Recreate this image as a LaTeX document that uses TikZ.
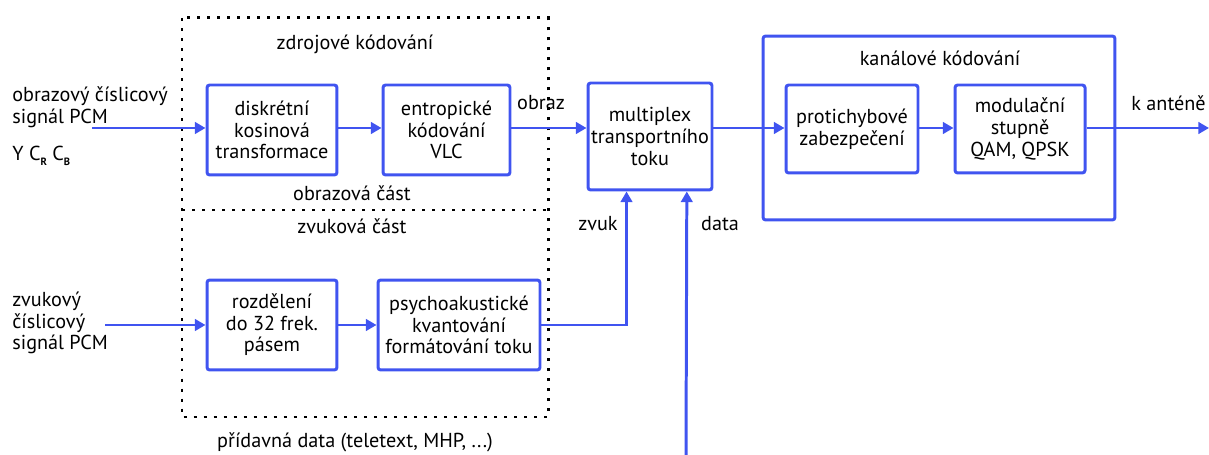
\documentclass[tikz,border=0pt]{standalone}
\usepackage{fontspec}
\setmainfont{PT Sans}
\usetikzlibrary{arrows.meta,calc}
\definecolor{flow}{RGB}{64,84,240}
\newcommand\lowsub[1]{\raisebox{-2.5pt}{\fontsize{6}{6}\selectfont\bfseries #1}}
\tikzset{
  txt/.style={inner sep=0pt, font=\fontsize{11.5}{12.3}\selectfont},
  blk/.style={txt, draw=flow, line width=1.7pt, rounded corners=1.5pt, align=center},
  lbl/.style={txt, align=left},
  ctr/.style={txt, align=center},
  sig/.style={draw=flow, line width=1.7pt, -{Triangle[length=6pt,width=6.5pt]}},
  dotbox/.style={draw=black, line width=1.7pt, dash pattern=on 1.7pt off 4pt}
}
\begin{document}
\begin{tikzpicture}[x=0.02cm,y=-0.02cm]
\useasboundingbox (0,0) rectangle (1209,455);

% source coding frame (picture part above, sound part below)
\draw[dotbox] (182,18) rectangle (548,417);
\draw[dotbox] (182,210) -- (548,210);
\node[ctr] (src) at (355,44) {zdrojové kódování};
\node[ctr] (obc) at (352,193) {obrazová část};
\node[ctr] (zvc) at (352,226) {zvuková část};

% channel coding frame
\node[draw=flow, line width=1.7pt, rounded corners=1.5pt, minimum width=7.04cm,
  minimum height=3.68cm, inner sep=0pt] (chan) at (939,128) {};
\node[ctr] (chl) at (940,58) {kanálové kódování};

% blocks
\node[blk, minimum width=2.6cm, minimum height=1.8cm] (dct) at (272,130)
  {diskrétní\\kosinová\\transformace};
\node[blk, minimum width=2.54cm, minimum height=1.8cm] (vlc) at (446.5,130)
  {entropické\\kódování\\VLC};
\node[blk, minimum width=2.48cm, minimum height=2.14cm] (mux) at (650,136.5)
  {multiplex\\transportního\\toku};
\node[blk, minimum width=2.64cm, minimum height=1.76cm] (prot) at (852,129)
  {protichybové\\zabezpečení};
\node[blk, minimum width=2.6cm, minimum height=1.76cm] (mod) at (1020,129)
  {modulační\\stupně\\QAM, QPSK};
\node[blk, minimum width=2.6cm, minimum height=1.8cm] (roz) at (272,325)
  {rozdělení\\do 32 frek.\\pásem};
\node[blk, minimum width=3.24cm, minimum height=1.8cm] (psy) at (459,325)
  {psychoakustické\\kvantování\\formátování toku};

% outside labels
\node[lbl, anchor=west] (vin) at (12,107) {obrazový číslicový\\signál PCM};
\node[lbl, anchor=west] (ycc) at (12,156) {Y C\lowsub{R} C\lowsub{B}};
\node[lbl, anchor=west] (ain) at (12,323) {zvukový\\číslicový\\signál PCM};
\node[ctr] (obr) at (541,103) {obraz};
\node[ctr] (zvk) at (598,224) {zvuk};
\node[ctr] (dtl) at (720,224) {data};
\node[ctr, anchor=west] (ant) at (1131,103) {k anténě};
\node[ctr] (add) at (355,442) {přídavná data (teletext, MHP, ...)};

% free ends
\coordinate (vsrc) at (92,128);
\coordinate (asrc) at (105,325);
\coordinate (out) at (1209,128);
\coordinate (dsrc) at (686,455);
\coordinate (zin) at ($(mux.south west)!0.315!(mux.south east)$);
\coordinate (din) at ($(mux.south west)!0.79!(mux.south east)$);

% connectors
\draw[sig] (vsrc) -- (vsrc -| dct.west);
\draw[sig] (dct.east |- 0,128) -- (vlc.west |- 0,128);
\draw[sig] (vlc.east |- 0,128) -- (mux.west |- 0,128);
\draw[sig] (mux.east |- 0,128) -- (prot.west |- 0,128);
\draw[sig] (prot.east |- 0,128) -- (mod.west |- 0,128);
\draw[sig] (mod.east |- 0,128) -- (out);
\draw[sig] (asrc) -- (asrc -| roz.west);
\draw[sig] (roz.east) -- (psy.west);
\draw[sig] (psy.east) -| (zin);
\draw[sig] (dsrc) -- (din);
\end{tikzpicture}
\end{document}
